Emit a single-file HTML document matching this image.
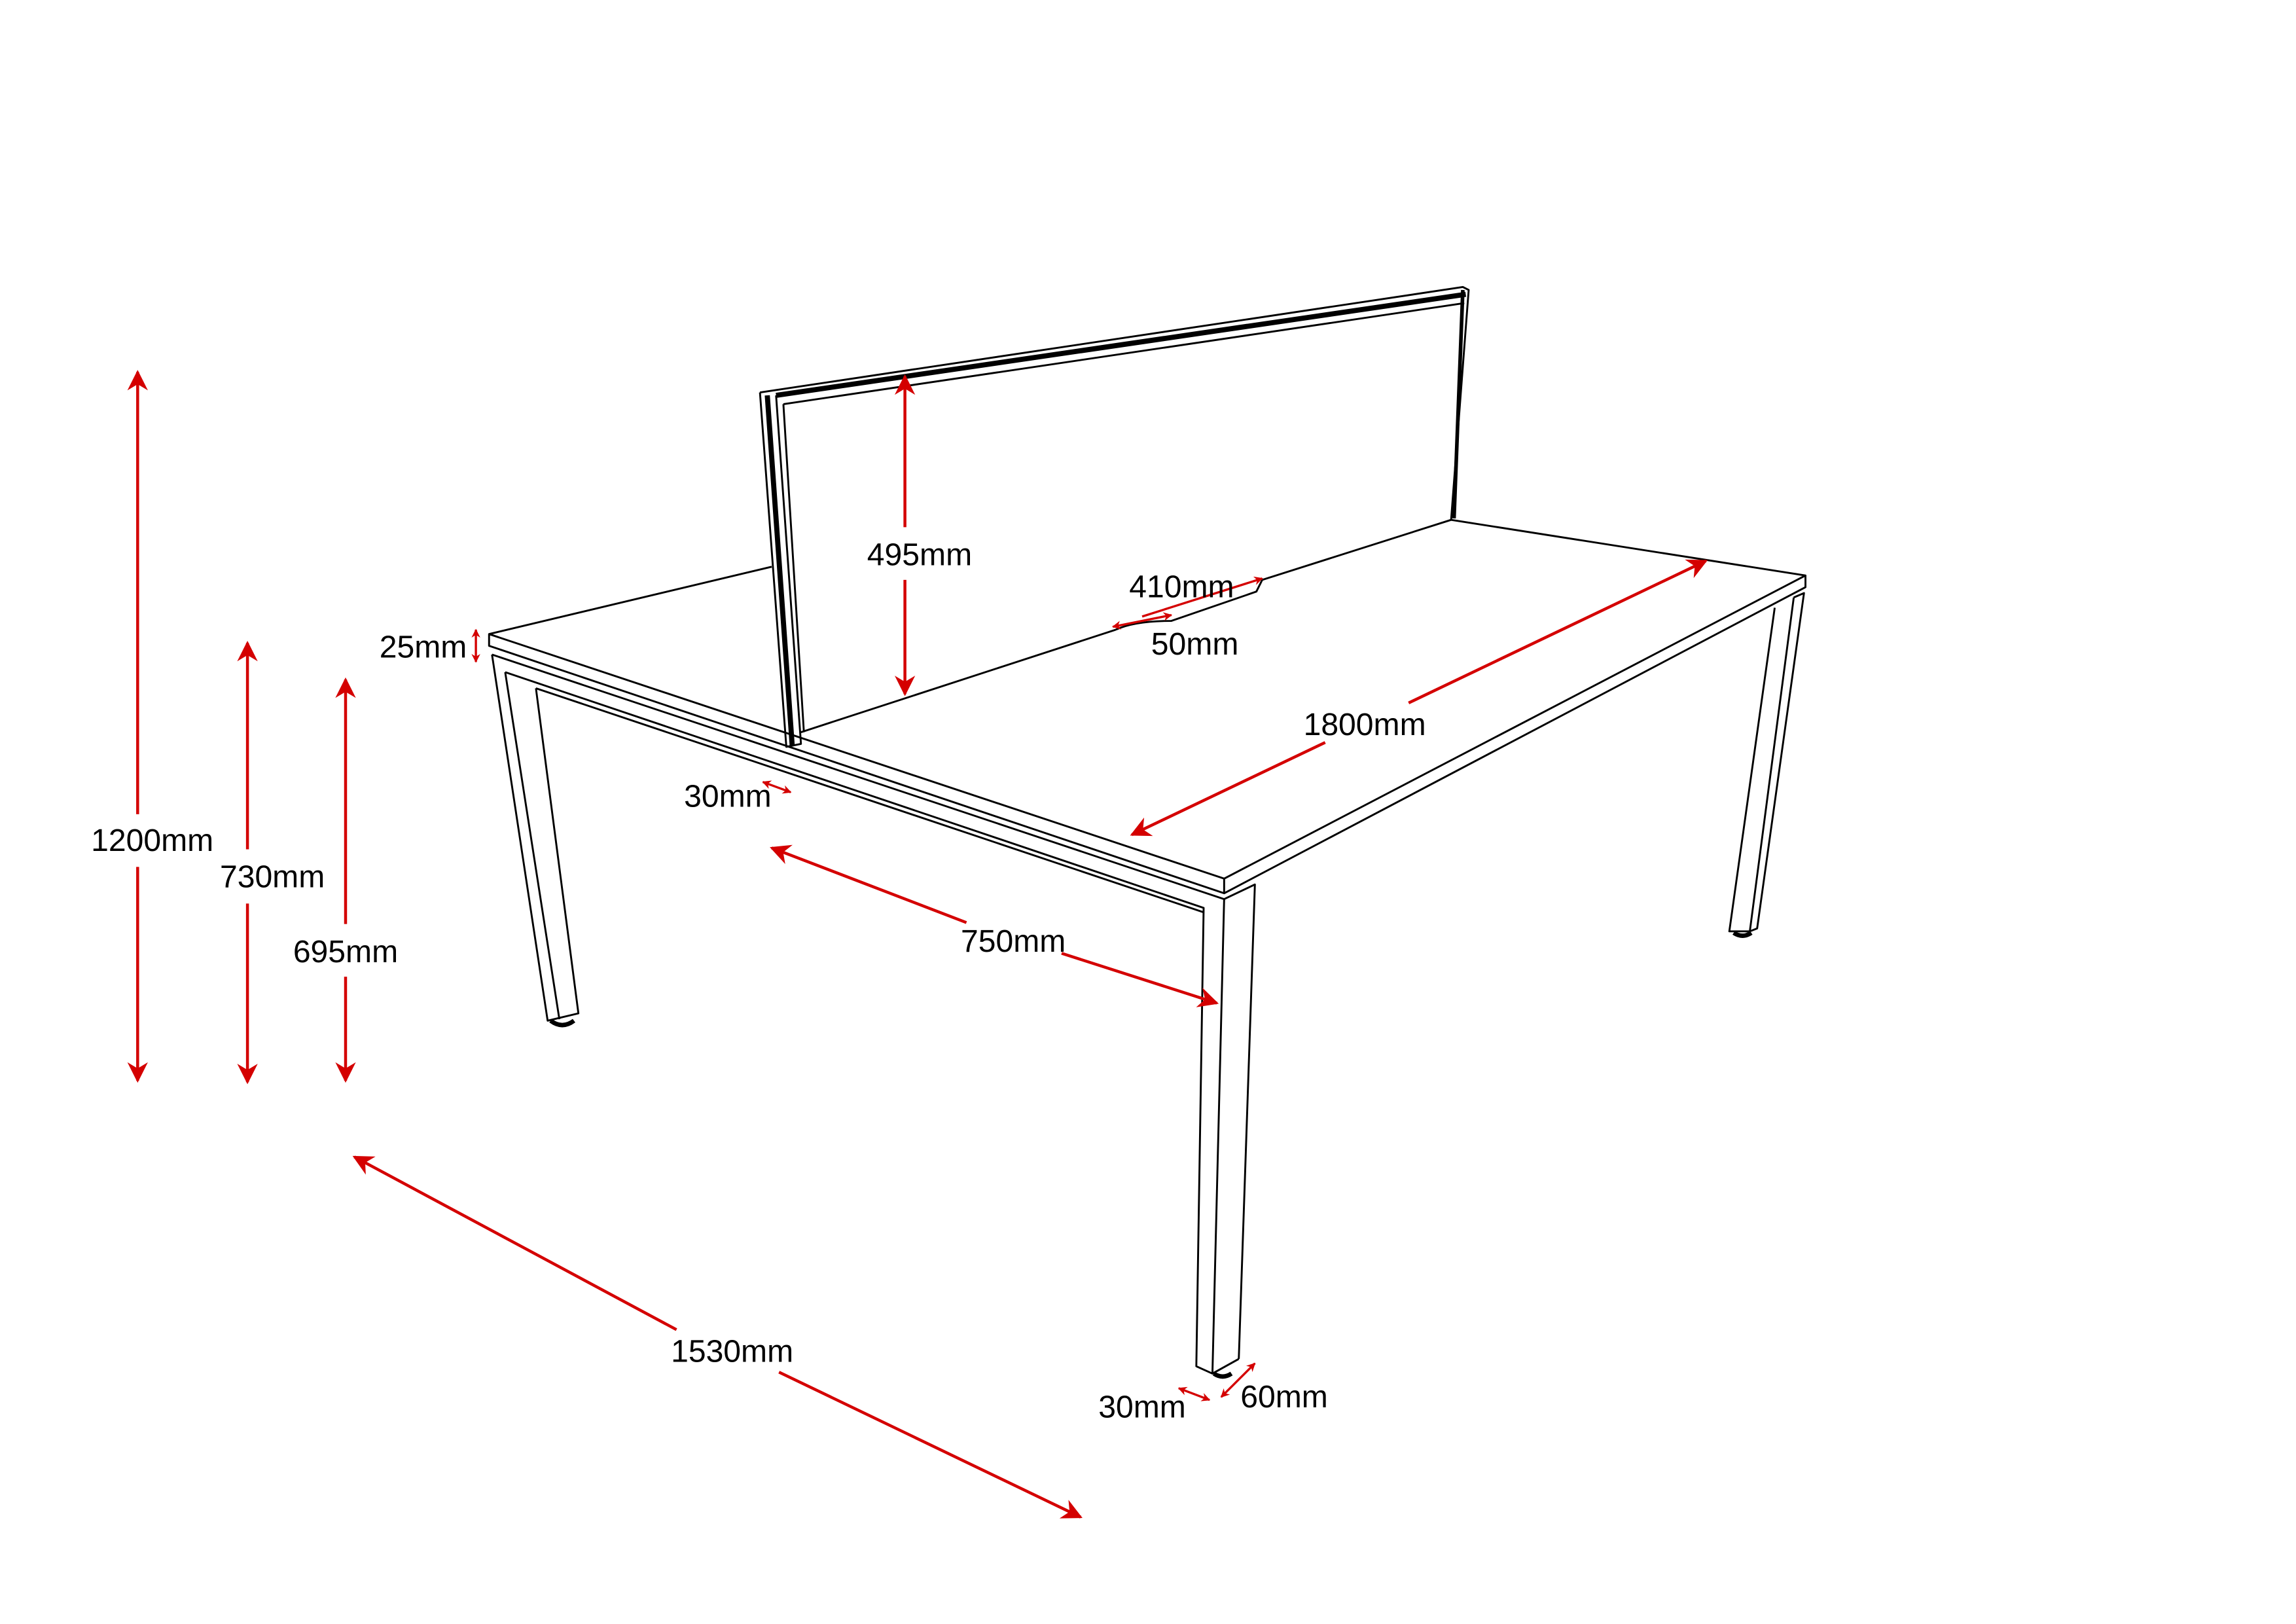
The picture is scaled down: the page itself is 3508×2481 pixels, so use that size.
<!DOCTYPE html>
<html><head><meta charset="utf-8"><style>
html,body{margin:0;padding:0;background:#fff;width:3508px;height:2481px;overflow:hidden}
svg{display:block}
text{font-family:"Liberation Sans",sans-serif;font-size:21.5px;fill:#000}
</style></head><body>
<svg width="3508" height="2481" viewBox="0 0 1568 1109" preserveAspectRatio="none">
<defs>
<marker id="a" viewBox="0 0 10 10" refX="9" refY="5" markerWidth="6" markerHeight="6" orient="auto-start-reverse" markerUnits="userSpaceOnUse">
<path d="M0,0 L10,5 L0,10 L3,5 z" fill="#d40000"/></marker>
<marker id="b" viewBox="0 0 10 10" refX="9" refY="5" markerWidth="14" markerHeight="14" orient="auto-start-reverse" markerUnits="userSpaceOnUse">
<path d="M0,0 L10,5 L0,10 L3,5 z" fill="#d40000"/></marker>
</defs>
<g fill="none" stroke="#000" stroke-width="1.3" stroke-linejoin="round">
<polyline points="527,387 334,433 334,441 836,610 836,600 334,433"/>
<polyline points="991,355 1233,393 836,600"/>
<polyline points="836,610 1233,401 1233,393"/>
<line x1="547" y1="500" x2="762" y2="430"/>
<path d="M762,430 Q775,424 800,424 L858,404 L862,396"/>
<line x1="862" y1="396" x2="991" y2="355"/>
<polyline points="336,447 836,614 857,604 846,928"/>
<polyline points="336,447 374,697 395,692 366,470"/>
<polyline points="345,459 822,620 817,933 828,938 836,614"/>
<line x1="345" y1="459" x2="382" y2="696"/>
<line x1="366" y1="470" x2="822" y2="623"/>
<line x1="828" y1="938" x2="846" y2="928"/>
<path d="M376,697 q8,6 16,0" stroke-width="3"/>
<path d="M829,938 q6,4 12,0" stroke-width="3"/>
<polyline points="1212,415 1181,636 1195,636 1225,408"/>
<polyline points="1225,408 1232,405 1200,634 1195,636"/>
<path d="M1184,637 q6,4 12,0" stroke-width="3"/>
<polyline points="519,268 537,510 547,508 530,270"/>
<line x1="524" y1="270" x2="541" y2="509" stroke-width="3.5"/>
<line x1="535" y1="276" x2="549" y2="500"/>
<polyline points="519,268 999,196 1003,198 991,355"/>
<line x1="530" y1="270" x2="1001" y2="201" stroke-width="3.5"/>
<line x1="535" y1="276" x2="1000" y2="207"/>
<line x1="999" y1="198" x2="993" y2="354" stroke-width="2.5"/>
</g>
<g stroke="#d40000" stroke-width="2" fill="none">
<line x1="94" y1="254" x2="94" y2="556" marker-start="url(#b)"/>
<line x1="94" y1="592" x2="94" y2="738" marker-end="url(#b)"/>
<line x1="169" y1="439" x2="169" y2="580" marker-start="url(#b)"/>
<line x1="169" y1="617" x2="169" y2="739" marker-end="url(#b)"/>
<line x1="236" y1="464" x2="236" y2="631" marker-start="url(#b)"/>
<line x1="236" y1="667" x2="236" y2="738" marker-end="url(#b)"/>
<line x1="325" y1="430" x2="325" y2="452" marker-start="url(#a)" marker-end="url(#a)" stroke-width="1.5"/>
<line x1="618" y1="257" x2="618" y2="360" marker-start="url(#b)"/>
<line x1="618" y1="396" x2="618" y2="474" marker-end="url(#b)"/>
<line x1="780" y1="421" x2="862" y2="395" marker-end="url(#a)" stroke-width="1.5"/>
<line x1="760" y1="428" x2="800" y2="420" marker-start="url(#a)" marker-end="url(#a)" stroke-width="1.5"/>
<line x1="773" y1="570" x2="905" y2="507" marker-start="url(#b)"/>
<line x1="962" y1="480" x2="1165" y2="383" marker-end="url(#b)"/>
<line x1="521" y1="534" x2="540" y2="541" marker-start="url(#a)" marker-end="url(#a)" stroke-width="1.5"/>
<line x1="527" y1="579" x2="660" y2="630" marker-start="url(#b)"/>
<line x1="725" y1="651" x2="831" y2="685" marker-end="url(#b)"/>
<line x1="242" y1="790" x2="462" y2="908" marker-start="url(#b)"/>
<line x1="532" y1="937" x2="738" y2="1036" marker-end="url(#b)"/>
<line x1="805" y1="948" x2="826" y2="956" marker-start="url(#a)" marker-end="url(#a)" stroke-width="1.5"/>
<line x1="834" y1="954" x2="857" y2="931" marker-start="url(#a)" marker-end="url(#a)" stroke-width="1.5"/>
</g>
<g text-anchor="middle">
<text x="104" y="581">1200mm</text>
<text x="186" y="606">730mm</text>
<text x="236" y="657">695mm</text>
<text x="289" y="449">25mm</text>
<text x="628" y="386">495mm</text>
<text x="807" y="408">410mm</text>
<text x="816" y="447">50mm</text>
<text x="932" y="502">1800mm</text>
<text x="497" y="551">30mm</text>
<text x="692" y="650">750mm</text>
<text x="500" y="930">1530mm</text>
<text x="780" y="968">30mm</text>
<text x="877" y="961">60mm</text>
</g>
</svg>
</body></html>
